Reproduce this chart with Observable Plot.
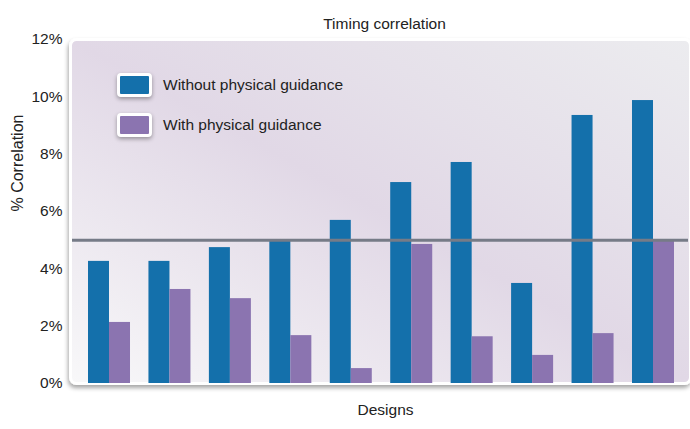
<!DOCTYPE html>
<html>
<head>
<meta charset="utf-8">
<script src="https://cdn.jsdelivr.net/npm/d3@7"></script>
<script src="https://cdn.jsdelivr.net/npm/@observablehq/plot@0.6"></script>
<style>
  html, body { margin: 0; padding: 0; background: #fff; }
  #wrap { position: relative; width: 690px; height: 429px; font-family: "Liberation Sans", Arial, Helvetica, sans-serif; }
  .legend { position: absolute; left: 117px; top: 73px; font-size: 15.5px; color: #222; }
  .row { display: flex; align-items: center; height: 24px; margin-bottom: 16px; }
  .sw { width: 29px; height: 18px; border: 3px solid #fff; border-radius: 4px; box-shadow: 0 2px 4px rgba(0,0,0,0.35); margin-right: 11px; }
</style>
</head>
<body>
<div id="wrap"></div>
<script>
const designs = ["D1","D2","D3","D4","D5","D6","D7","D8","D9","D10"];
const withoutGuidance = [4.26, 4.26, 4.74, 4.97, 5.69, 7.01, 7.71, 3.49, 9.35, 9.87];
const withGuidance = [2.13, 3.28, 2.96, 1.67, 0.52, 4.85, 1.63, 0.98, 1.74, 4.97];
const yTicks = [0, 2, 4, 6, 8, 10, 12];
const threshold = [5];
const seriesNames = ["Without physical guidance", "With physical guidance"];
const colors = ["#1470ab", "#8b74b0"];

const data = designs.map((d, i) => ({design: d, without: withoutGuidance[i], with: withGuidance[i]}));

const plot = Plot.plot({
  width: 690,
  height: 429,
  marginLeft: 70,
  marginRight: 0,
  marginTop: 39,
  marginBottom: 46,
  style: {fontFamily: "'Liberation Sans', Arial, Helvetica, sans-serif", fontSize: "15.5px", color: "#222", background: "transparent", overflow: "visible"},
  x: {domain: designs, range: [88, 674], paddingInner: 0.305, paddingOuter: 0, round: false, axis: null},
  y: {domain: [0, 12], range: [383, 39], axis: null},
  marks: [
    Plot.frame({fill: "url(#bgGrad)", stroke: "#fff", strokeWidth: 3, rx: 6, ry: 6}),
    Plot.barY(data, {x: "design", y: "without", fill: colors[0], insetRight: 21, insetLeft: 0}),
    Plot.barY(data, {x: "design", y: "with", fill: colors[1], insetLeft: 21, insetRight: 0}),
    Plot.ruleY(threshold, {stroke: "#767b87", strokeWidth: 3, inset: 2}),
    Plot.axisY(yTicks, {anchor: "left", tickSize: 0, tickPadding: 8, tickFormat: d => d + "%", fontSize: 15.5, label: null}),
    Plot.text(["% Correlation"], {frameAnchor: "left", dx: -53, rotate: -90, fontSize: 16, fill: "#222"}),
    Plot.text(["Timing correlation"], {frameAnchor: "top", dx: 4, dy: -22, fontSize: 15.5, fill: "#222"}),
    Plot.text(["Designs"], {frameAnchor: "bottom", dx: 5, dy: 31, fontSize: 15.5, fill: "#222"})
  ]
});

const svg = d3.select(plot);
const defs = svg.insert("defs", ":first-child");
const g = defs.append("linearGradient").attr("id", "bgGrad")
  .attr("x1", "0%").attr("y1", "100%").attr("x2", "100%").attr("y2", "0%");
g.append("stop").attr("offset", "0%").attr("stop-color", "#f8f8f9");
g.append("stop").attr("offset", "50%").attr("stop-color", "#e1d8e6");
g.append("stop").attr("offset", "100%").attr("stop-color", "#ececef");
const f = defs.append("filter").attr("id", "shadow").attr("x", "-5%").attr("y", "-5%").attr("width", "110%").attr("height", "115%");
f.append("feDropShadow").attr("dx", -1).attr("dy", 3).attr("stdDeviation", 2).attr("flood-color", "#000").attr("flood-opacity", 0.35);
svg.select("[aria-label=frame]").attr("filter", "url(#shadow)");

const wrap = document.getElementById("wrap");
wrap.appendChild(plot);

const legend = document.createElement("div");
legend.className = "legend";
seriesNames.forEach((name, i) => {
  const row = document.createElement("div");
  row.className = "row";
  const sw = document.createElement("div");
  sw.className = "sw";
  sw.style.background = colors[i];
  const lab = document.createElement("span");
  lab.textContent = name;
  row.appendChild(sw);
  row.appendChild(lab);
  legend.appendChild(row);
});
wrap.appendChild(legend);
</script>
</body>
</html>
